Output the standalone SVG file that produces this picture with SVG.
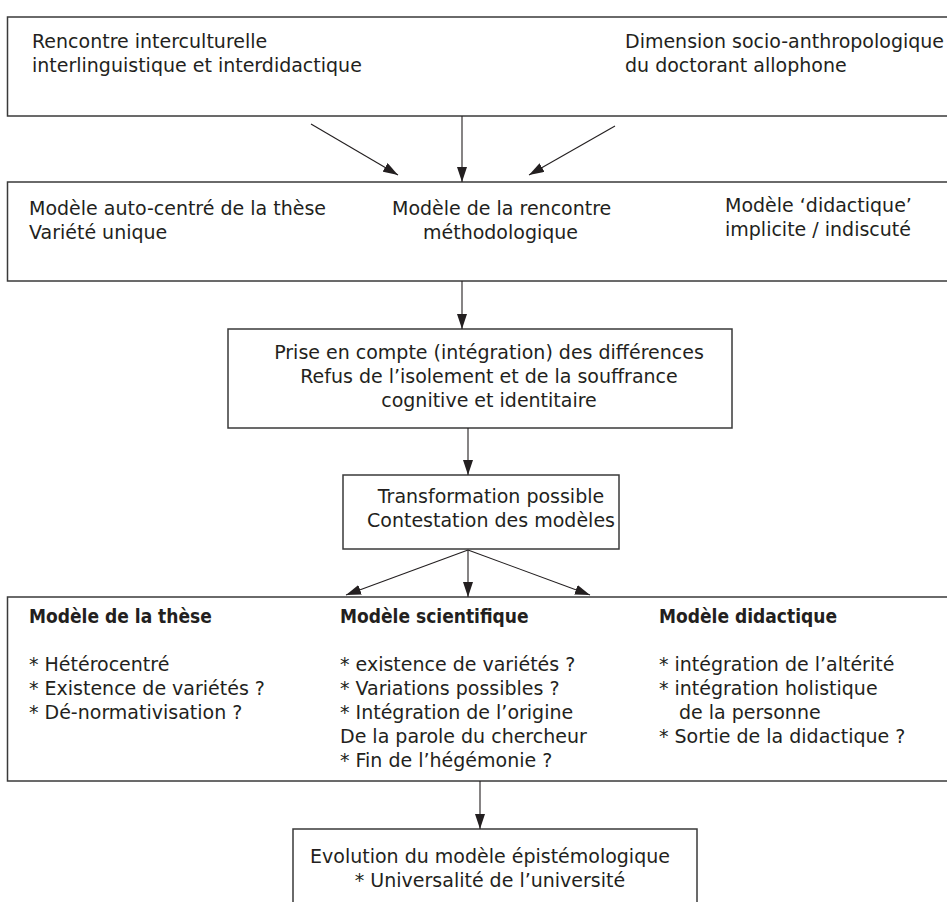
<svg xmlns="http://www.w3.org/2000/svg" width="947" height="902" viewBox="0 0 947 902">
  <defs>
    <style>
      .box { fill: #ffffff; stroke: #3a3a3a; stroke-width: 1.5; }
      .t { font-family: "DejaVu Sans", "Liberation Sans", sans-serif; font-size: 19px; fill: #231f20; }
      .c { text-anchor: middle; }
      .b { font-family: "DejaVu Sans Condensed", "DejaVu Sans", sans-serif; font-weight: bold; }
      .conn { stroke: #231f20; stroke-width: 1.1; fill: none; marker-end: url(#ah); }
    </style>
    <marker id="ah" markerUnits="userSpaceOnUse" markerWidth="15" markerHeight="10" refX="15" refY="5" orient="auto" viewBox="0 0 15 10">
      <path d="M0,0 L15,5 L0,10 z" fill="#231f20"/>
    </marker>
  </defs>
  <rect width="947" height="902" fill="#ffffff"/>

  <g id="node-rencontre">
    <rect class="box" x="7.5" y="17" width="960" height="99"/>
    <text class="t" x="32" y="48">Rencontre interculturelle</text>
    <text class="t" x="32" y="72">interlinguistique et interdidactique</text>
    <text class="t" x="625" y="48">Dimension socio-anthropologique</text>
    <text class="t" x="625" y="72">du doctorant allophone</text>
  </g>

  <g id="node-modeles">
    <rect class="box" x="7.5" y="182" width="960" height="99"/>
    <text class="t" x="29" y="215">Modèle auto-centré de la thèse</text>
    <text class="t" x="29" y="239">Variété unique</text>
    <text class="t" x="392" y="215">Modèle de la rencontre</text>
    <text class="t" x="423" y="239">méthodologique</text>
    <text class="t" x="725" y="212">Modèle ‘didactique’</text>
    <text class="t" x="725" y="236">implicite / indiscuté</text>
  </g>

  <g id="node-prise">
    <rect class="box" x="228" y="329" width="504" height="99"/>
    <text class="t c" x="489" y="359">Prise en compte (intégration) des différences</text>
    <text class="t c" x="489" y="383">Refus de l’isolement et de la souffrance</text>
    <text class="t c" x="489" y="407">cognitive et identitaire</text>
  </g>

  <g id="node-transformation">
    <rect class="box" x="343" y="475" width="276" height="74"/>
    <text class="t c" x="491" y="503">Transformation possible</text>
    <text class="t c" x="491" y="527">Contestation des modèles</text>
  </g>

  <g id="node-modeles-detail">
    <rect class="box" x="7.5" y="597" width="960" height="184"/>
    <text class="t b" x="29" y="623">Modèle de la thèse</text>
    <text class="t" x="29" y="671">* Hétérocentré</text>
    <text class="t" x="29" y="695">* Existence de variétés ?</text>
    <text class="t" x="29" y="719">* Dé-normativisation ?</text>

    <text class="t b" x="340" y="623">Modèle scientifique</text>
    <text class="t" x="340" y="671">* existence de variétés ?</text>
    <text class="t" x="340" y="695">* Variations possibles ?</text>
    <text class="t" x="340" y="719">* Intégration de l’origine</text>
    <text class="t" x="340" y="743">De la parole du chercheur</text>
    <text class="t" x="340" y="767">* Fin de l’hégémonie ?</text>

    <text class="t b" x="659" y="623">Modèle didactique</text>
    <text class="t" x="659" y="671">* intégration de l’altérité</text>
    <text class="t" x="659" y="695">* intégration holistique</text>
    <text class="t" x="679" y="719">de la personne</text>
    <text class="t" x="659" y="743">* Sortie de la didactique ?</text>
  </g>

  <g id="node-evolution">
    <rect class="box" x="293" y="829" width="404" height="90"/>
    <text class="t c" x="490" y="863">Evolution du modèle épistémologique</text>
    <text class="t c" x="490" y="887">* Universalité de l’université</text>
  </g>

  <g id="connectors">
    <line class="conn" x1="311" y1="124" x2="398" y2="175"/>
    <line class="conn" x1="462" y1="116" x2="462" y2="182"/>
    <line class="conn" x1="615" y1="126" x2="529" y2="175"/>
    <line class="conn" x1="462" y1="281" x2="462" y2="329"/>
    <line class="conn" x1="468" y1="428" x2="468" y2="475"/>
    <line class="conn" x1="468" y1="550" x2="346" y2="595"/>
    <line class="conn" x1="468" y1="550" x2="468" y2="597"/>
    <line class="conn" x1="468" y1="550" x2="590" y2="595"/>
    <line class="conn" x1="480" y1="781" x2="480" y2="829"/>
  </g>
</svg>
